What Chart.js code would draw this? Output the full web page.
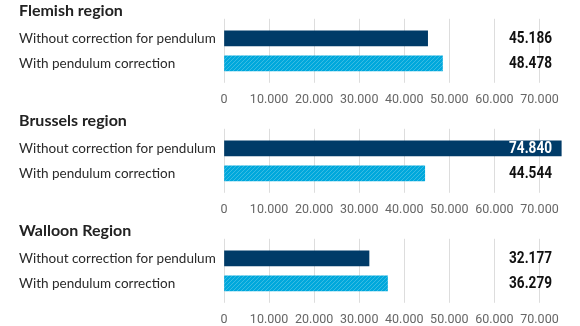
<!DOCTYPE html>
<html>
<head>
<meta charset="utf-8">
<script src="https://cdn.jsdelivr.net/npm/chart.js@4/dist/chart.umd.min.js"></script>
<style>
  html, body { margin: 0; padding: 0; background: #fff; overflow: hidden; }
  .panel { position: relative; width: 580px; height: 110px; }
</style>
</head>
<body>
<div class="panel"><canvas id="chart-flemish"></canvas></div>
<div class="panel"><canvas id="chart-brussels"></canvas></div>
<div class="panel"><canvas id="chart-walloon"></canvas></div>
<script>
var regions = ['Flemish region', 'Brussels region', 'Walloon Region'];
var categories = ['Without correction for pendulum', 'With pendulum correction'];
var withoutCorrection = [45186, 74840, 32177];
var withCorrection = [48478, 44544, 36279];
var xTicks = [0, 10000, 20000, 30000, 40000, 50000, 60000, 70000];
var xMax = 75000;

var canvasIds = ['chart-flemish', 'chart-brussels', 'chart-walloon'];

var NAVY = '#003b68';
var SKY = '#00a8dc';
var GRID = '#dddddd';
var NUM_FONT = 'Roboto, sans-serif';
var TEXT_FONT = 'Lato, "Noto Sans", sans-serif';

// 45186 -> "45.186"
function formatNumber(v) {
  return String(v).replace(/\B(?=(\d{3})+(?!\d))/g, '.');
}

// light blue bars get thin diagonal stripes
function stripePattern() {
  var c = document.createElement('canvas');
  c.width = 4;
  c.height = 4;
  var g = c.getContext('2d');
  g.fillStyle = SKY;
  g.fillRect(0, 0, 4, 4);
  g.strokeStyle = 'rgba(255,255,255,0.22)';
  g.lineWidth = 1;
  g.beginPath();
  g.moveTo(-1, 5);
  g.lineTo(5, -1);
  g.stroke();
  return g.createPattern(c, 'repeat');
}

// grid stops at 70.000 even though the scale runs a bit further
function keepTicks(scale) {
  scale.ticks = xTicks.map(function (v) { return { value: v }; });
}

// numbers printed at the right, white when the bar runs underneath
var valueLabels = {
  id: 'valueLabels',
  afterDatasetsDraw: function (chart) {
    var ctx = chart.ctx;
    var meta = chart.getDatasetMeta(0);
    var right = chart.chartArea.right - 10;
    ctx.save();
    ctx.font = 'bold 16px ' + NUM_FONT;
    ctx.textBaseline = 'middle';
    ctx.textAlign = 'right';
    meta.data.forEach(function (bar, i) {
      var value = chart.data.datasets[0].data[i];
      ctx.fillStyle = bar.x > right - 45 ? '#ffffff' : '#111111';
      ctx.save();
      ctx.translate(right, bar.y + 1);
      ctx.scale(0.85, 1); // narrow figures
      ctx.fillText(formatNumber(value), 0, 0);
      ctx.restore();
    });
    ctx.restore();
  }
};

var pattern = stripePattern();

regions.forEach(function (region, i) {
  new Chart(document.getElementById(canvasIds[i]), {
    type: 'bar',
    data: {
      labels: categories,
      datasets: [{
        data: [withoutCorrection[i], withCorrection[i]],
        backgroundColor: [NAVY, pattern],
        barThickness: 15
      }]
    },
    plugins: [valueLabels],
    options: {
      indexAxis: 'y',
      responsive: true,
      maintainAspectRatio: false,
      animation: false,
      layout: { padding: { left: 19, right: 18, top: 0, bottom: 2 } },
      plugins: {
        legend: { display: false },
        tooltip: { enabled: false },
        title: {
          display: true,
          text: region,
          align: 'start',
          color: '#222',
          font: { family: TEXT_FONT, size: 16, weight: 'bold', lineHeight: 0.95 },
          padding: { top: 3.6, bottom: 0 }
        }
      },
      scales: {
        x: {
          position: 'bottom',
          min: 0,
          max: xMax,
          afterBuildTicks: keepTicks,
          afterFit: function (scale) { scale.height = 32.2; },
          border: { display: false },
          grid: { color: GRID, drawTicks: true, tickLength: 7 },
          ticks: {
            color: '#666',
            padding: 10,
            autoSkip: false,
            maxRotation: 0,
            minRotation: 0,
            font: { family: NUM_FONT, size: 12.5 },
            callback: function (v) { return formatNumber(v); }
          }
        },
        xTop: {
          axis: 'x',
          type: 'linear',
          position: 'top',
          min: 0,
          max: xMax,
          afterBuildTicks: keepTicks,
          border: { display: false },
          grid: { color: GRID, drawOnChartArea: false, drawTicks: true, tickLength: 7 },
          ticks: { display: false }
        },
        y: {
          offset: true,
          border: { display: false },
          grid: { display: false },
          afterFit: function (scale) { scale.width = 205; },
          ticks: {
            crossAlign: 'far',
            autoSkip: false,
            color: '#2a2a2a',
            padding: 0,
            font: { family: TEXT_FONT, size: 13.5 }
          }
        }
      }
    }
  });
});
</script>
</body>
</html>
